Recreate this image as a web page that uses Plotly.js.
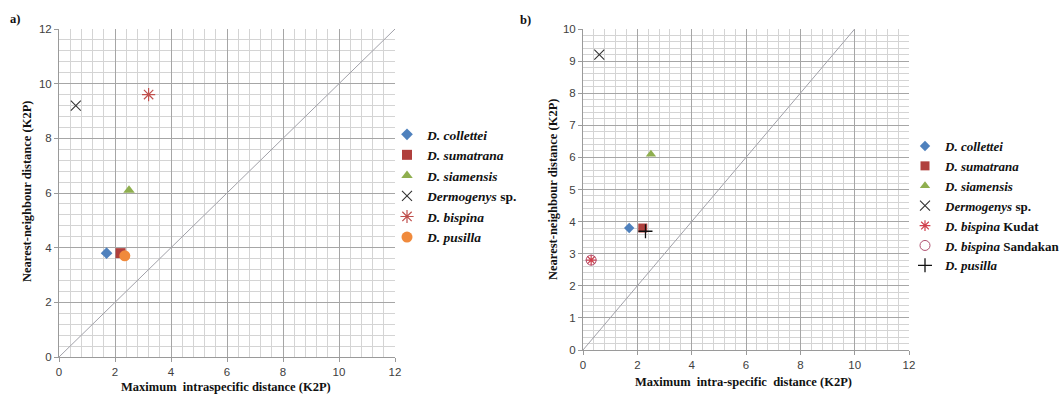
<!DOCTYPE html>
<html>
<head>
<meta charset="utf-8">
<script src="https://cdn.plot.ly/plotly-3.0.1.min.js"></script>
<style>html,body{margin:0;padding:0;background:#fff;overflow:hidden;}#chart{width:1063px;height:395px;}</style>
</head>
<body>
<div id="chart"></div>
<script>
// ---- Panel a data ----
const namesA = ["<b><i>D. collettei</i></b>", "<b><i>D. sumatrana</i></b>", "<b><i>D. siamensis</i></b>", "<b><i>Dermogenys</i> sp.</b>", "<b><i>D. bispina</i></b>", "<b><i>D. pusilla</i></b>"];
const intraA = [1.7, 2.2, 2.5, 0.6, 3.2, 2.35];
const nearestA = [3.8, 3.8, 6.1, 9.2, 9.6, 3.7];

// ---- Panel b data ----
const namesB = ["<b><i>D. collettei</i></b>", "<b><i>D. sumatrana</i></b>", "<b><i>D. siamensis</i></b>", "<b><i>Dermogenys</i> sp.</b>", "<b><i>D. bispina</i> Kudat</b>", "<b><i>D. bispina</i> Sandakan</b>", "<b><i>D. pusilla</i></b>"];
const intraB = [1.7, 2.2, 2.5, 0.6, 0.3, 0.3, 2.3];
const nearestB = [3.8, 3.8, 6.1, 9.2, 2.8, 2.8, 3.7];

// diagonal reference lines (y = x)
const diagA = [0, 12];
const diagB = [0, 10];

const stylesA = [
  {symbol: "diamond", color: "#4f81bd", size: 9},
  {symbol: "square", color: "#b0403d", size: 10},
  {symbol: "triangle-up", color: "#8faf4f", size: 10},
  {symbol: "x-thin-open", color: "#333333", size: 10, lw: 1.1},
  {symbol: "asterisk-open", color: "#c0504d", size: 11, lw: 1.2},
  {symbol: "circle", color: "#f08a3c", size: 11}
];
const stylesB = [
  {symbol: "diamond", color: "#4f81bd", size: 8},
  {symbol: "square", color: "#b0403d", size: 9},
  {symbol: "triangle-up", color: "#8faf4f", size: 9},
  {symbol: "x-thin-open", color: "#333333", size: 10, lw: 1.1},
  {symbol: "asterisk-open", color: "#d0404d", size: 9, lw: 1.2},
  {symbol: "circle-open", color: "#b05070", size: 10, lw: 1},
  {symbol: "cross-thin-open", color: "#111111", size: 10, lw: 1.3}
];

const traces = [];
traces.push({x: diagA, y: diagA, mode: "lines", line: {color: "#a0a0a8", width: 1}, showlegend: false, hoverinfo: "skip", xaxis: "x", yaxis: "y"});
traces.push({x: diagB, y: diagB, mode: "lines", line: {color: "#a0a0a8", width: 1}, showlegend: false, hoverinfo: "skip", xaxis: "x2", yaxis: "y2"});

namesA.forEach((n, i) => {
  const s = stylesA[i];
  traces.push({x: [intraA[i]], y: [nearestA[i]], name: n, mode: "markers", type: "scatter",
    marker: {symbol: s.symbol, color: s.color, size: s.size, line: {color: s.color, width: s.lw || 0}},
    xaxis: "x", yaxis: "y", legend: "legend"});
});
namesB.forEach((n, i) => {
  const s = stylesB[i];
  traces.push({x: [intraB[i]], y: [nearestB[i]], name: n, mode: "markers", type: "scatter",
    marker: {symbol: s.symbol, color: s.color, size: s.size, line: {color: s.color, width: s.lw || 0}},
    xaxis: "x2", yaxis: "y2", legend: "legend2"});
});

const W = 1063, H = 395;
const px = v => v / W;
const py = v => 1 - v / H;

const tickFont = {family: "Liberation Sans, Arial, sans-serif", size: 11.5, color: "#404040"};
const titleFont = {family: "Liberation Serif, Times New Roman, serif", size: 12.5, color: "#111111"};
const legFontA = {family: "Liberation Serif, Times New Roman, serif", size: 13.5, color: "#111111"};
const legFontB = {family: "Liberation Serif, Times New Roman, serif", size: 13, color: "#111111"};

function axis(extra) {
  return Object.assign({
    showgrid: true, gridcolor: "#a6a6a6", gridwidth: 1,
    zeroline: false, showline: true, linecolor: "#9a9a9a", linewidth: 1,
    ticks: "outside", ticklen: 4, tickcolor: "#9a9a9a",
    tickfont: tickFont, fixedrange: true, mirror: false, automargin: false
  }, extra);
}

function ann(text, x, y, angle) {
  return {text: text, x: px(x), y: py(y), xref: "paper", yref: "paper", xanchor: "center", yanchor: "middle",
    showarrow: false, font: titleFont, textangle: angle || 0};
}

const layout = {
  width: W, height: H,
  margin: {l: 0, r: 0, t: 0, b: 0, autoexpand: false},
  paper_bgcolor: "#ffffff", plot_bgcolor: "#ffffff",
  showlegend: true,
  xaxis: axis({domain: [px(59), px(395)], range: [0, 12], dtick: 2, minor: {dtick: 0.4, showgrid: true, gridcolor: "#d4d4d4"}, anchor: "y"}),
  yaxis: axis({domain: [py(357), py(29)], range: [0, 12], dtick: 2, minor: {dtick: 0.4, showgrid: true, gridcolor: "#d4d4d4"}, anchor: "x"}),
  xaxis2: axis({domain: [px(583), px(909)], range: [0, 12], dtick: 2, minor: {dtick: 0.4, showgrid: true, gridcolor: "#d4d4d4"}, anchor: "y2"}),
  yaxis2: axis({domain: [py(350), py(29)], range: [0, 10], dtick: 1, minor: {dtick: 0.2, showgrid: true, gridcolor: "#d4d4d4"}, anchor: "x2"}),
  legend: {x: px(387), y: py(119), xanchor: "left", yanchor: "top", font: legFontA, bgcolor: "rgba(0,0,0,0)", itemwidth: 30, tracegroupgap: 0},
  legend2: {x: px(905), y: py(131), xanchor: "left", yanchor: "top", font: legFontB, bgcolor: "rgba(0,0,0,0)", itemwidth: 30, tracegroupgap: 0},
  annotations: [
    ann("<b>a)</b>", 15, 19),
    ann("<b>b)</b>", 525, 20),
    ann("<b>Maximum\u00a0\u00a0intraspecific distance (K2P)</b>", 226, 387),
    ann("<b>Nearest-neighbour distance (K2P)</b>", 27, 192, -90),
    ann("<b>Maximum\u00a0\u00a0intra-specific\u00a0\u00a0distance (K2P)</b>", 743, 382),
    ann("<b>Nearest-neighbour distance (K2P)</b>", 553, 190, -90)
  ]
};

Plotly.newPlot("chart", traces, layout, {staticPlot: true, displayModeBar: false});
</script>
</body>
</html>
